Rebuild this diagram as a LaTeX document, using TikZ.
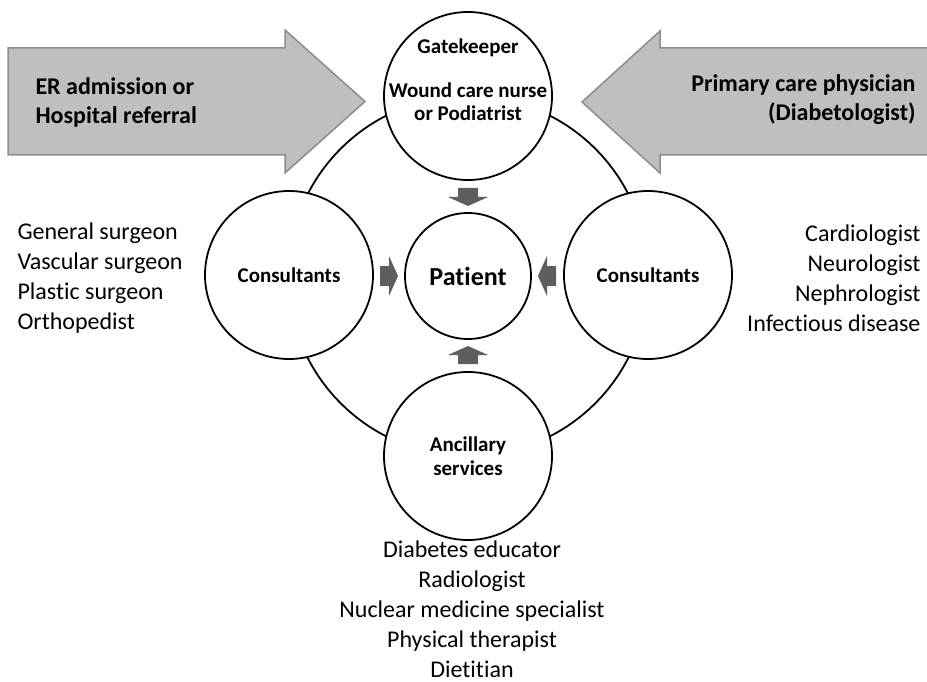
\documentclass[tikz,border=0pt]{standalone}
\usepackage{fontspec}
\setmainfont{Carlito}[Ligatures=NoCommon]
\usetikzlibrary{calc}

\begin{document}
\begin{tikzpicture}[x=1pt,y=-1pt,
  ring/.style={draw,line width=1.8pt},
  bubble/.style={circle,draw,line width=1.8pt,fill=white,minimum size=168pt,inner sep=0pt,align=center,font=\bfseries\fontsize{21}{23.5}\selectfont},
  bigarrow/.style={fill=black!25,draw=black!45,line width=1.5pt},
  tip/.style={fill=black!63},
  arrowtext/.style={font=\bfseries\fontsize{24}{29}\selectfont},
  listtext/.style={font=\fontsize{24}{30}\selectfont}]
  \useasboundingbox[fill=white] (0,0) rectangle (927,682);
  \draw[bigarrow] (8,48) -- (285,48) -- (285,30) -- (365,101.5) -- (285,173) -- (285,155) -- (8,155) -- cycle;
  \draw[bigarrow] (940,48) -- (660,48) -- (660,31) -- (582,102) -- (660,173) -- (660,155) -- (940,155) -- cycle;
  \node[arrowtext,anchor=west,align=left] (erlabel) at (32,102) {ER admission or\\Hospital referral};
  \node[arrowtext,anchor=east,align=right] (pcplabel) at (919,100) {Primary care physician\\(Diabetologist)};
  \node[bubble,minimum size=126pt,font=\bfseries\fontsize{26}{30}\selectfont] (patient) at (468,276) {Patient};
  \draw[ring] (patient.center) circle (180);
  \node[bubble] (gate) at (468,96) {};
  \node[font=\bfseries\fontsize{21}{23.5}\selectfont] (gatetitle) at (468,48) {Gatekeeper};
  \node[font=\bfseries\fontsize{21}{23.5}\selectfont,align=center] (gaterole) at (468,101.5) {Wound care nurse\\or Podiatrist};
  \node[bubble] (consleft) at (289,275) {Consultants};
  \node[bubble] (consright) at (648,275) {Consultants};
  \node[bubble] (ancillary) at (468,456) {Ancillary\\services};
  \foreach \a in {0,90,180,270}
    \fill[tip,shift={(patient.center)},rotate=\a] (-10,-88) -- (10,-88) -- (10,-79) -- (20,-79) -- (0,-70) -- (-20,-79) -- (-10,-79) -- cycle;
  \node[listtext,anchor=west,align=left] (leftlist) at (14,278) {General surgeon\\Vascular surgeon\\Plastic surgeon\\Orthopedist};
  \node[listtext,anchor=east,align=right] (rightlist) at (924,278) {Cardiologist\\Neurologist\\Nephrologist\\Infectious disease};
  \node[listtext,align=center,inner sep=1pt] (anclist) at (472,609) {Diabetes educator\\Radiologist\\Nuclear medicine specialist\\Physical therapist\\Dietitian};
\end{tikzpicture}
\end{document}
